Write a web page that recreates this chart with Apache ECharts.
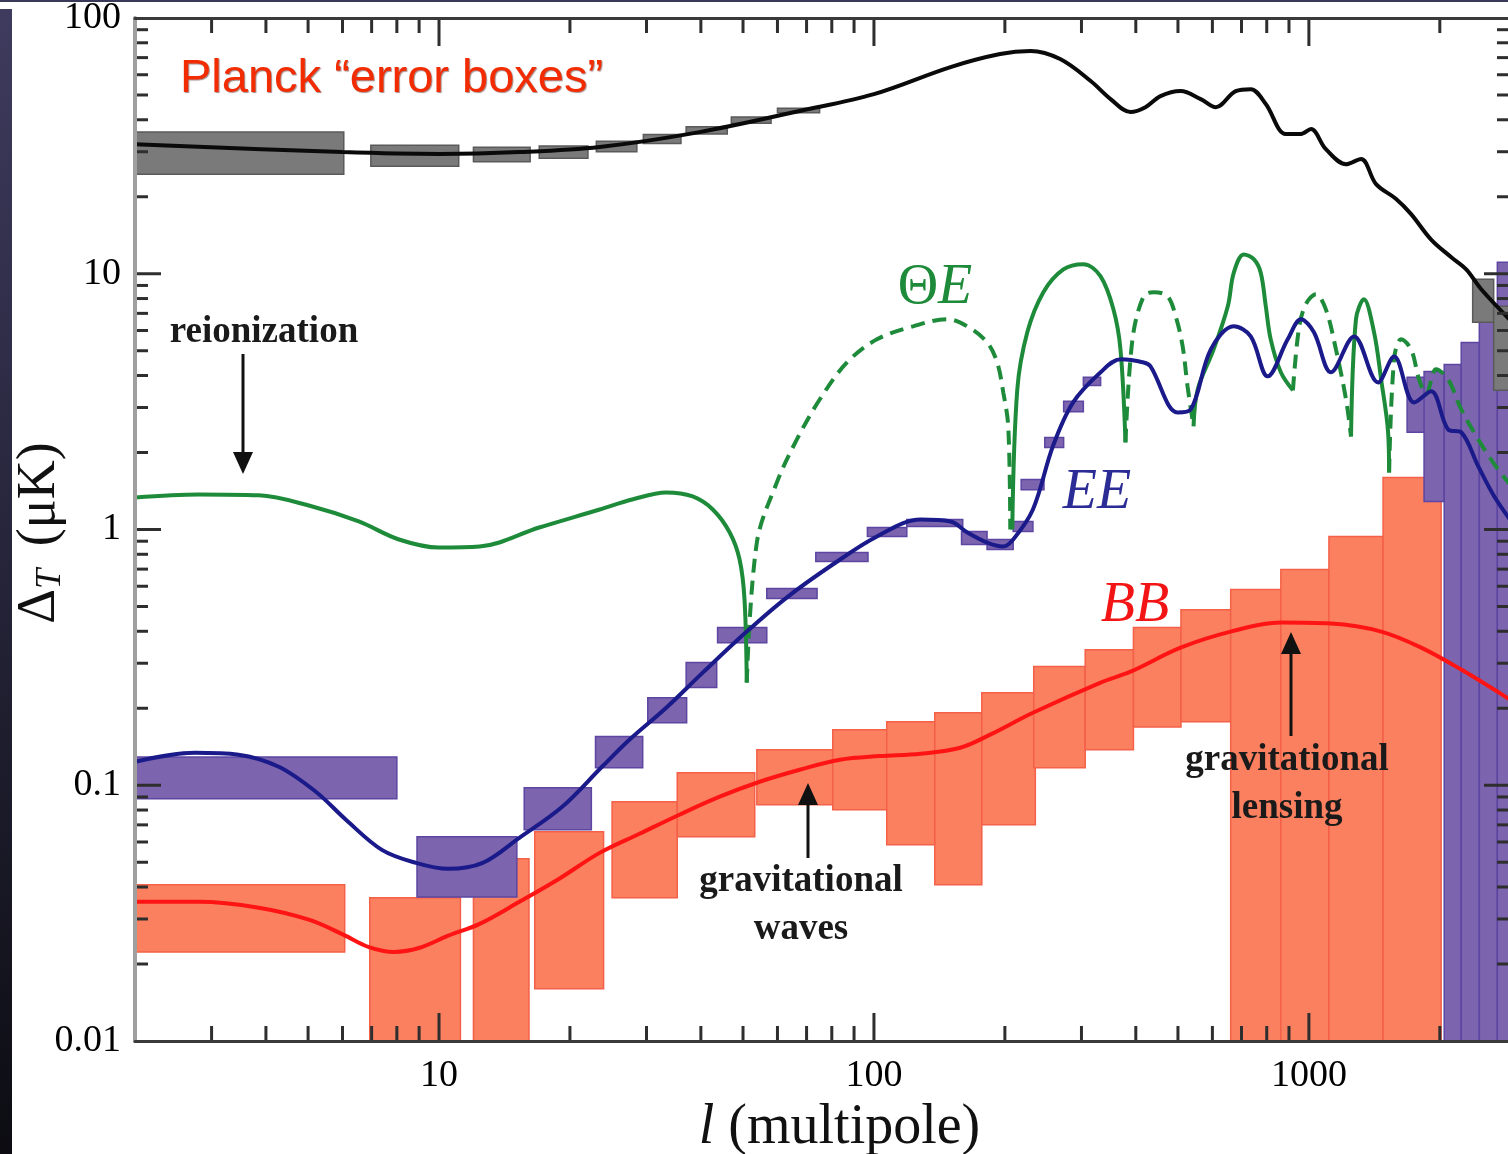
<!DOCTYPE html>
<html><head><meta charset="utf-8">
<script src="https://cdn.jsdelivr.net/npm/echarts@6.0.0/dist/echarts.min.js"></script>
<style>html,body{margin:0;padding:0;background:#fff;}#c{width:1508px;height:1154px;}</style>
</head><body><div id="c"></div>
<script>
// ---------- data (multipole l, amplitude in uK) ----------
const X_TICK_LABELS = ['10', '100', '1000'];
const Y_TICK_LABELS = ['0.01', '0.1', '1', '10', '100'];

const TT_LINE = [[2,32.1],[6,29.9],[10,29.4],[15.3,29.9],[23.4,31.3],[39.7,35.8],[67.5,43.3],[100,50.4],[150,64.3],[195,72.3],[229,74.3],[268,69.1],[315,56.7],[350,48.2],[389,42.9],[421,44.8],[456,49.5],[507,51.8],[564,48.2],[611,44.8],[679,51.8],[735,52.7],[796,46.1],[885,35.2],[959,35.2],[1011,36.8],[1094,30.7],[1217,26.8],[1318,28.1],[1427,22.4],[1587,19.6],[1718,17.1],[1910,13.6],[2125,11.6],[2300,10.4],[2490,8.7],[2900,6.6]];

const EE_LINE = [[2,0.1236],[2.75,0.134],[3.46,0.1317],[4.28,0.1181],[5.21,0.0943],[6.11,0.0733],[7.39,0.0559],[8.85,0.0497],[10.5,0.0471],[12.6,0.0497],[15.3,0.0623],[19.2,0.0824],[23.7,0.1181],[27.4,0.1507],[33.3,0.201],[40.4,0.2757],[51,0.3989],[63,0.5419],[80.4,0.7295],[101.6,0.939],[128,1.094],[150,1.075],[164,0.973],[182,0.889],[198,0.858],[209,0.914],[232,1.197],[258,2.12],[287,3.14],[332,4.12],[369,4.63],[417,4.5],[432,4.35],[499,2.87],[535,2.95],[595,5.06],[672,6.23],[735,5.69],[804,3.97],[894,5.54],[959,6.64],[1027,5.9],[1124,4.12],[1270,5.69],[1442,3.76],[1570,4.75],[1746,3.14],[1910,3.47],[2091,2.46],[2240,2.4],[2452,1.765],[2669,1.346],[2900,1.094]];

const BB_LINE = [[2,0.035],[2.8,0.035],[3.85,0.0332],[5.02,0.0298],[6.04,0.026],[6.9,0.0233],[7.88,0.0223],[8.99,0.0231],[10.5,0.0258],[12.4,0.0287],[15.3,0.035],[18.9,0.0431],[23.4,0.0544],[28.9,0.0646],[35.7,0.0767],[44.2,0.0902],[54.6,0.1032],[67.5,0.115],[83.5,0.1258],[103,0.13],[128,0.1328],[158,0.1402],[185,0.1577],[232,0.192],[332,0.252],[389,0.278],[507,0.3452],[661,0.3989],[862,0.4325],[1124,0.4286],[1466,0.3989],[1812,0.3452],[2240,0.2833],[2900,0.2162]];

// Theta-E: solid where positive, dashed where negative (absolute value plotted)
const TE_POSITIVE = [
  [[2,1.334],[2.8,1.371],[3.85,1.36],[5.02,1.241],[6.54,1.075],[8.09,0.914],[10,0.85],[12.4,0.858],[17,1.018],[23.4,1.197],[27.8,1.31],[33.3,1.396],[38.3,1.346],[42.6,1.197],[46.6,0.973],[49.1,0.763],[50.4,0.532],[51,0.252]],
  [[208,1.0],[213.6,3.53],[225.2,5.9],[245.2,8.47],[272.6,10.4],[303,10.9],[331.7,9.78],[355.3,7.26],[368.8,5.06],[378.7,2.19]],
  [[543,2.53],[555,3.53],[604,5.06],[651,7.46],[672,10.1],[708.6,11.9],[747,11.4],[775,10.1],[796,7.46],[817,5.54],[862,4.12],[919,3.5]],
  [[1250,2.31],[1283,6.64],[1338,7.95],[1412,5.9],[1466,3.86],[1521,2.4],[1529,1.67]]
];
const TE_NEGATIVE = [
  [[51,0.252],[53.8,0.889],[59.8,1.527],[66.5,2.25],[75.1,3.23],[86.7,4.5],[101.6,5.54],[123,6.23],[147.3,6.64],[163.8,6.23],[182.1,5.39],[192,4.5],[198.3,3.44],[203.6,2.53],[205.8,1.0]],
  [[378.7,2.19],[393,5.54],[417,8.17],[439.5,8.47],[473,8.17],[494,6.82],[512.6,5.2],[526,3.63],[543,2.53]],
  [[919,3.5],[948,6.06],[984,7.6],[1038,8.32],[1094,7.26],[1154,5.06],[1217,3.23],[1250,2.31]],
  [[1529,1.67],[1570,4.63],[1629,5.54],[1718,5.06],[1792,3.86],[1860,3.38],[1961,4.23],[2091,3.86],[2240,2.95],[2452,2.25],[2669,1.8],[2900,1.5]]
];

// error boxes: [l_min, l_max, value_low, value_high]
const TT_BOXES = [[2,6.04,24.5,35.8],[6.97,11.1,26.3,31.8],[12,16.2,27.4,31.2],[17,22,28.3,31.6],[23,28.5,30,33],[29.5,36,32.3,35],[37,46,35.2,37.6],[47,58,38.8,41],[60,75,42.6,44.4],[2380,2660,6.46,9.52],[2660,2950,3.5,7.46]];
const EE_BOXES = [[2,8.0,0.0886,0.129],[8.9,15.1,0.0366,0.0629],[15.7,22.4,0.067,0.0977],[22.9,29.4,0.117,0.155],[30.2,37.1,0.1757,0.22],[37,43.5,0.241,0.302],[43.7,56.7,0.361,0.4135],[56.7,74,0.537,0.588],[73.5,96.9,0.749,0.813],[96.6,119,0.939,1.018],[119,160,1.027,1.094],[159,182,0.873,0.982],[182,209,0.835,0.914],[209,232,0.982,1.075],[218,246,1.43,1.57],[247,273,2.09,2.29],[273,303,2.89,3.17],[303,332,3.66,3.94],[1682,1860,2.4,3.94],[1840,2047,1.287,4.15],[2047,2240,0.004,4.42],[2240,2465,0.004,5.39],[2465,2712,0.004,7.39],[2712,3000,0.004,11.1]];
const BB_BOXES = [[2,6.07,0.0223,0.0408],[6.93,11.2,0.004,0.0363],[12.0,16.1,0.004,0.0516],[16.6,23.9,0.016,0.0658],[25.0,35.3,0.0363,0.0862],[35.3,53.2,0.0629,0.1119],[53.8,80.4,0.0839,0.1377],[80.4,107.7,0.0802,0.165],[107,138,0.0585,0.177],[138,177,0.0408,0.192],[177,235,0.07,0.23],[233,306,0.117,0.291],[306,395,0.1377,0.339],[395,508,0.169,0.4135],[508,661,0.177,0.486],[661,862,0.004,0.582],[862,1112,0.004,0.697],[1112,1481,0.004,0.939],[1481,2014,0.004,1.598]];

// ---------- helpers ----------
function fmt(labels) {
  return function (v) { const s = String(Number(Number(v).toPrecision(6))); return labels.indexOf(s) >= 0 ? s : ''; };
}
function boxRenderer(fill, stroke) {
  return function (params, api) {
    const p0 = api.coord([api.value(0), api.value(3)]);
    const p1 = api.coord([api.value(1), api.value(2)]);
    const cs = params.coordSys;
    const shape = echarts.graphic.clipRectByRect(
      {x: p0[0], y: p0[1], width: p1[0] - p0[0], height: p1[1] - p0[1]},
      {x: cs.x, y: cs.y, width: cs.width, height: cs.height});
    if (!shape) return;
    return {type: 'rect', shape: shape, style: {fill: fill, stroke: stroke, lineWidth: 1.5}};
  };
}
// tick marks at 1..9 x 10^n on all four sides
const TICKS = [];
for (let d = 0; d <= 3; d++) for (let m = 1; m <= 9; m++) {
  const v = m * Math.pow(10, d);
  if (v > 2 && v < 2900) TICKS.push([v, 1, m === 1 ? 1 : 0]);
}
for (let d = -2; d <= 1; d++) for (let m = 1; m <= 9; m++) {
  const v = m * Math.pow(10, d);
  if (v > 0.01 && v < 100) TICKS.push([10, v, m === 1 ? 3 : 2]);
}
function renderTick(params, api) {
  const cs = params.coordSys;
  const kind = api.value(2);
  const c = api.coord([api.value(0), api.value(1)]);
  const st = {stroke: '#2e2e2e', lineWidth: 3};
  if (kind < 2) {
    const len = kind === 1 ? 28 : 15, x = c[0], yb = cs.y + cs.height, yt = cs.y;
    return {type: 'group', children: [
      {type: 'line', shape: {x1: x, y1: yb, x2: x, y2: yb - len}, style: st},
      {type: 'line', shape: {x1: x, y1: yt, x2: x, y2: yt + len}, style: st}]};
  }
  const len = kind === 3 ? 26 : 13, y = c[1], xl = cs.x, xr = cs.x + cs.width;
  return {type: 'group', children: [
    {type: 'line', shape: {x1: xl, y1: y, x2: xl + len, y2: y}, style: st},
    {type: 'line', shape: {x1: xr, y1: y, x2: xr - len, y2: y}, style: st}]};
}

const SERIF = 'Liberation Serif';
const GREEN = '#1e8b3a';
const LW = 4;
const series = [
  {type: 'custom', name: 'BB boxes', renderItem: boxRenderer('#fb8060', '#f46048'), data: BB_BOXES, encode: {x: [0, 1], y: [2, 3]}, z: 2, silent: true},
  {type: 'custom', name: 'EE boxes', renderItem: boxRenderer('#7c64ae', '#5c46a2'), data: EE_BOXES, encode: {x: [0, 1], y: [2, 3]}, z: 3, silent: true},
  {type: 'custom', name: 'TT boxes', renderItem: boxRenderer('#7a7a7a', '#5a5a5a'), data: TT_BOXES, encode: {x: [0, 1], y: [2, 3]}, z: 4, silent: true},
  {type: 'line', name: 'TT', data: TT_LINE, smooth: 0.35, symbol: 'none', lineStyle: {color: '#0a0a0a', width: LW}, z: 6},
  {type: 'line', name: 'EE', data: EE_LINE, smooth: 0.35, symbol: 'none', lineStyle: {color: '#1a1a8a', width: LW}, z: 7},
  {type: 'line', name: 'BB', data: BB_LINE, smooth: 0.35, symbol: 'none', lineStyle: {color: '#ff1414', width: LW}, z: 8}
];
TE_POSITIVE.forEach(function (seg) {
  series.push({type: 'line', name: 'TE+', data: seg, smooth: 0.35, symbol: 'none', lineStyle: {color: GREEN, width: LW}, z: 6});
});
TE_NEGATIVE.forEach(function (seg) {
  series.push({type: 'line', name: 'TE-', data: seg, smooth: 0.35, symbol: 'none', lineStyle: {color: GREEN, width: LW, type: [14, 8]}, z: 6});
});
series.push({type: 'custom', name: 'ticks', renderItem: renderTick, data: TICKS, encode: {x: 0, y: 1}, z: 20, silent: true});

function arrow(x, y1, y2) { // vertical arrow from y1 to tip y2
  const dir = y2 > y1 ? 1 : -1;
  return [
    {type: 'line', shape: {x1: x, y1: y1, x2: x, y2: y2 - dir * 18}, style: {stroke: '#111', lineWidth: 3}, z: 30},
    {type: 'polygon', shape: {points: [[x - 10, y2 - dir * 22], [x + 10, y2 - dir * 22], [x, y2]]}, style: {fill: '#111'}, z: 30}
  ];
}
const annFont = {fontFamily: SERIF, fontSize: 37, fontWeight: 'bold', fill: '#1a1a1a', align: 'center', verticalAlign: 'middle'};
const graphic = [
  {type: 'rect', shape: {x: 0, y: 9, width: 12, height: 1145}, style: {fill: new echarts.graphic.LinearGradient(0, 0, 0, 1, [{offset: 0, color: '#3e3b5e'}, {offset: 1, color: '#0c0c12'}])}, z: 40},
  {type: 'rect', shape: {x: 0, y: 0, width: 1508, height: 2}, style: {fill: '#3a3a58'}, z: 40},
  {type: 'text', x: 40, y: 533, rotation: Math.PI / 2,
    style: {text: '{d|\u0394}{s|T}{n|\u2009(\u03bcK)}', align: 'center', verticalAlign: 'middle',
      rich: {d: {fontFamily: SERIF, fontSize: 54, fill: '#111'}, s: {fontFamily: SERIF, fontSize: 36, fontStyle: 'italic', fill: '#111', padding: [22, 0, 0, 0]}, n: {fontFamily: SERIF, fontSize: 54, fill: '#111', padding: [0, 0, 0, 12]}}}, z: 30},
  {type: 'text', x: 180, y: 79, style: {text: 'Planck \u201cerror boxes\u201d', fontFamily: 'Liberation Sans', fontSize: 47, fill: '#f22c00', align: 'left', verticalAlign: 'middle', textShadowColor: 'rgba(60,0,0,0.45)', textShadowOffsetX: 1, textShadowOffsetY: 1, textShadowBlur: 1}, z: 30},
  {type: 'text', x: 264, y: 332, style: Object.assign({text: 'reionization'}, annFont), z: 30},
  {type: 'text', x: 801, y: 905, style: Object.assign({text: 'gravitational\nwaves', lineHeight: 48}, annFont), z: 30},
  {type: 'text', x: 1287, y: 784, style: Object.assign({text: 'gravitational\nlensing', lineHeight: 48}, annFont), z: 30},
  {type: 'text', x: 935, y: 288, style: {text: '{a|\u0398}{b|E}', align: 'center', verticalAlign: 'middle', rich: {a: {fontFamily: SERIF, fontSize: 56, fill: GREEN}, b: {fontFamily: SERIF, fontSize: 56, fontStyle: 'italic', fill: GREEN}}}, z: 30},
  {type: 'text', x: 1097, y: 493, style: {text: 'EE', fontFamily: SERIF, fontSize: 56, fontStyle: 'italic', fill: '#2c2c96', align: 'center', verticalAlign: 'middle'}, z: 30},
  {type: 'text', x: 1135, y: 606, style: {text: 'BB', fontFamily: SERIF, fontSize: 56, fontStyle: 'italic', fill: '#f31515', align: 'center', verticalAlign: 'middle'}, z: 30}
].concat(arrow(243, 354, 474), arrow(808, 858, 783), arrow(1291, 736, 632));

const chart = echarts.init(document.getElementById('c'), null, {renderer: 'canvas'});
chart.setOption({
  animation: false,
  backgroundColor: '#ffffff',
  grid: {left: 135, right: -2, top: 18, bottom: 113, containLabel: false, outerBoundsMode: 'none'},
  xAxis: [{
    type: 'log', logBase: 10, min: 2, max: 2900, position: 'bottom', z: 25,
    axisLine: {show: true, onZero: false, lineStyle: {color: '#3a3a3a', width: 3}},
    axisTick: {show: false}, minorTick: {show: false}, splitLine: {show: false},
    axisLabel: {margin: 16, fontFamily: SERIF, fontSize: 38, color: '#000', formatter: fmt(X_TICK_LABELS), showMinLabel: false, showMaxLabel: false},
    name: '{i|l} {n|(multipole)}', nameLocation: 'middle', nameGap: 58,
    nameTextStyle: {fontFamily: SERIF, fontSize: 56, color: '#111', padding: [0, 0, 0, 34],
      rich: {i: {fontFamily: SERIF, fontSize: 56, fontStyle: 'italic', color: '#111'}, n: {fontFamily: SERIF, fontSize: 56, color: '#111'}}}
  }, {
    type: 'log', logBase: 10, min: 2, max: 2900, position: 'top', z: 25,
    axisLine: {show: true, onZero: false, lineStyle: {color: '#3a3a3a', width: 3}},
    axisTick: {show: false}, axisLabel: {show: false}, splitLine: {show: false}
  }],
  yAxis: [{
    type: 'log', logBase: 10, min: 0.01, max: 100, position: 'left', z: 25,
    axisLine: {show: true, onZero: false, lineStyle: {color: '#a0a0a0', width: 4}},
    axisTick: {show: false}, minorTick: {show: false}, splitLine: {show: false},
    axisLabel: {margin: 14, fontFamily: SERIF, fontSize: 38, color: '#000', formatter: fmt(Y_TICK_LABELS)}
  }, {
    type: 'log', logBase: 10, min: 0.01, max: 100, position: 'right',
    axisLine: {show: false}, axisTick: {show: false}, axisLabel: {show: false}, splitLine: {show: false}
  }],
  series: series,
  graphic: graphic
});
</script></body></html>
